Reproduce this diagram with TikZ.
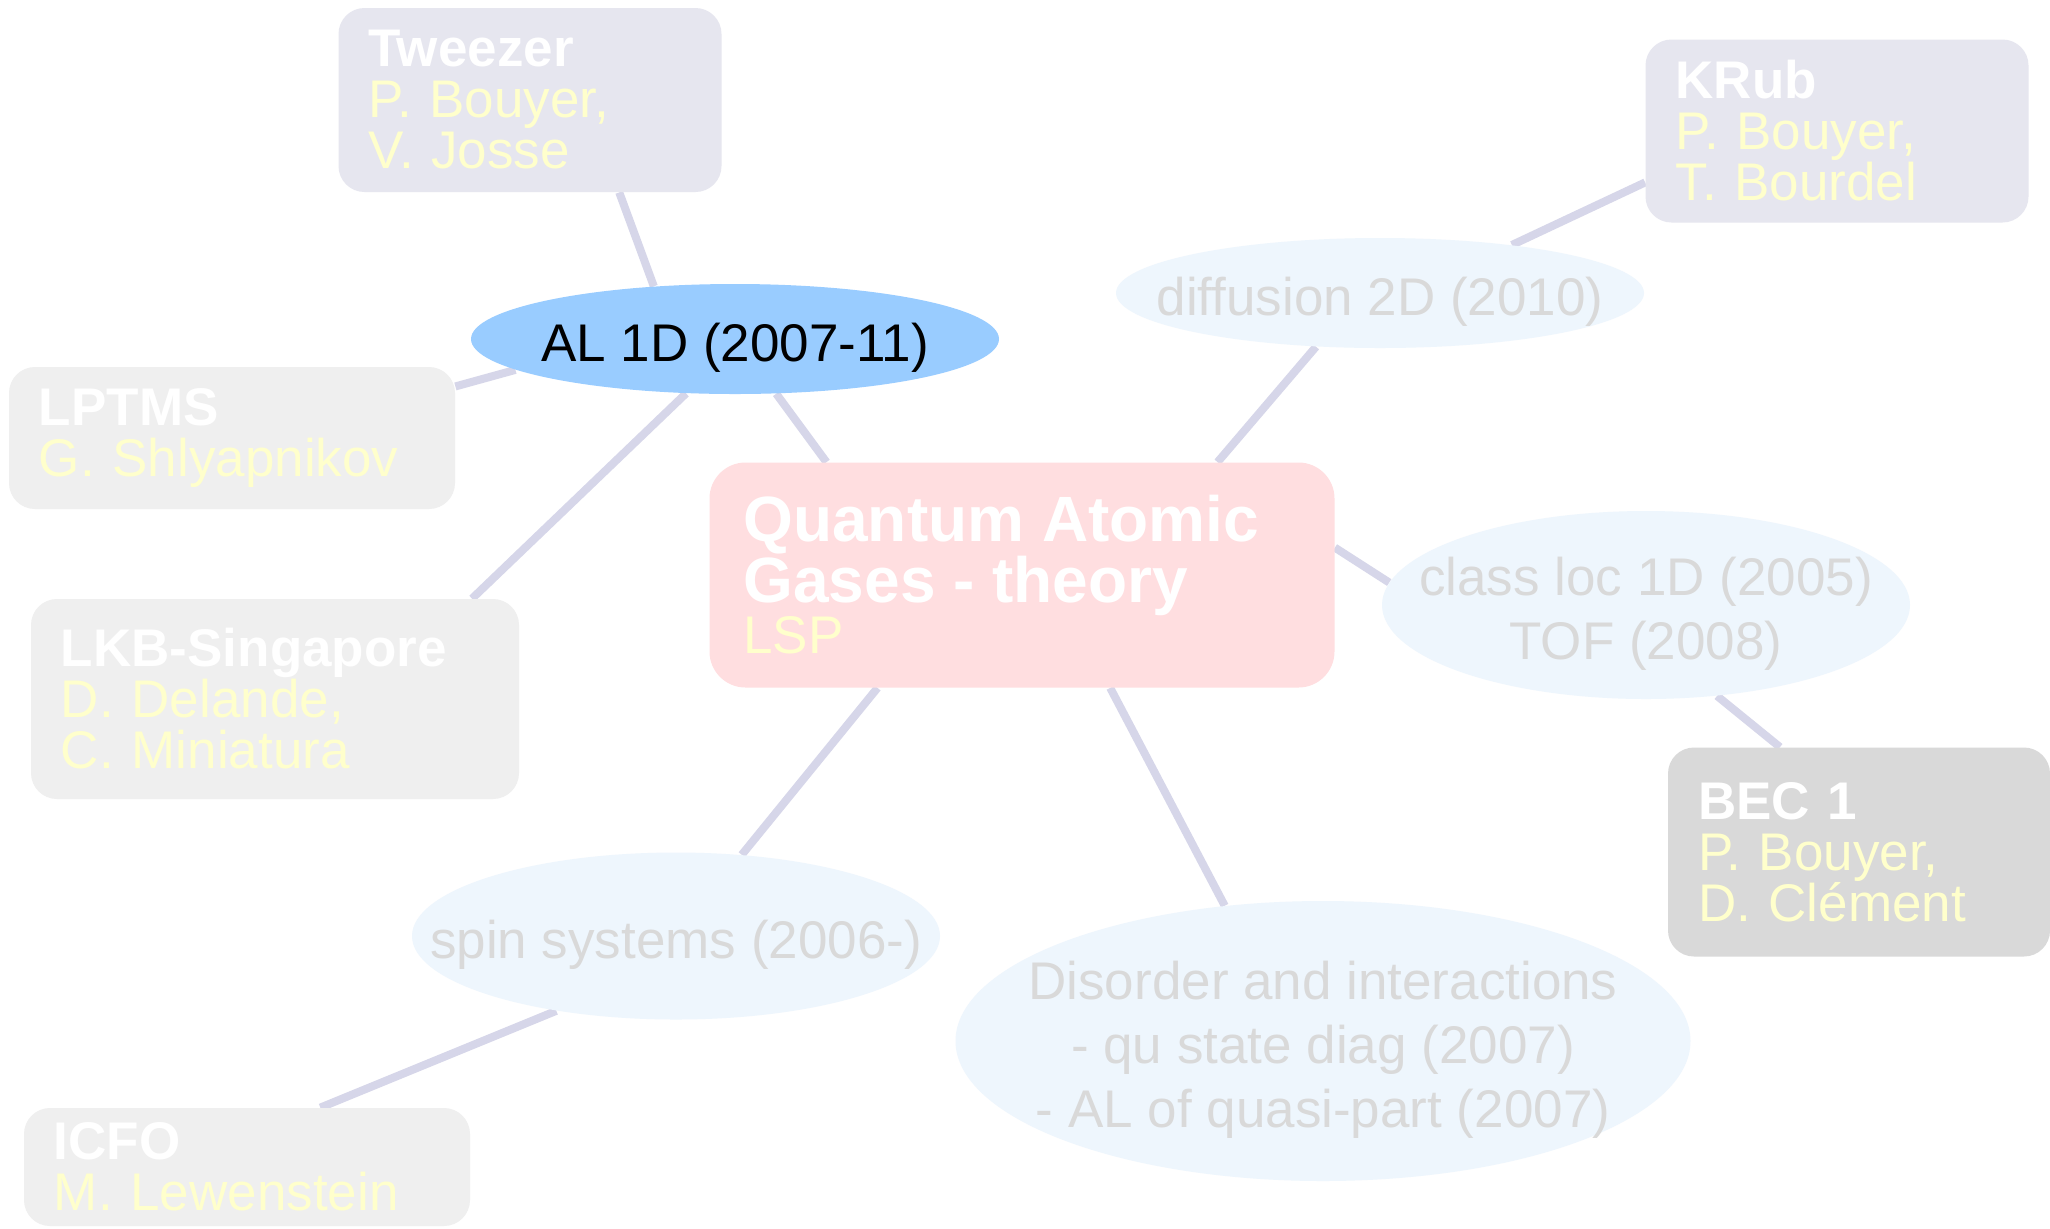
\documentclass[tikz,border=0pt]{standalone}
\usepackage{fontspec}
\setmainfont{Liberation Sans}
\usetikzlibrary{shapes.geometric,backgrounds}
\definecolor{linkcol}{RGB}{214,214,233}
\definecolor{labcol}{RGB}{230,230,239}
\definecolor{partnercol}{RGB}{239,239,239}
\definecolor{beccol}{RGB}{217,217,217}
\definecolor{pinkcol}{RGB}{255,222,224}
\definecolor{bubblecol}{RGB}{238,246,253}
\definecolor{alcol}{RGB}{153,204,255}
\definecolor{greytext}{RGB}{217,217,217}
\definecolor{namecol}{RGB}{255,255,204}
\begin{document}
\begin{tikzpicture}[x=0.5pt, y=-0.5pt,
    every node/.style={font=\fontsize{26.5pt}{25.5pt}\selectfont},
    box/.style={rectangle, rounded corners=13pt, align=left, text=white, inner xsep=15pt, inner ysep=0pt},
    bubble/.style={ellipse, fill=bubblecol, inner sep=0pt},
    bubbletext/.style={align=center, text=greytext, inner sep=0pt, yshift=-4.5pt, font=\fontsize{26.5pt}{32pt}\selectfont},
    link/.style={draw=linkcol, line width=4pt}]
    \useasboundingbox (0,0) rectangle (2050,1228);
    % central topic
    \node[box, fill=pinkcol, text width=278.5pt, minimum height=112.5pt, rounded corners=18pt, inner xsep=17pt] (qag) at (1022,575)
        {{\fontsize{32pt}{30.5pt}\selectfont\bfseries Quantum Atomic\\ Gases - theory\par}\color{namecol}LSP};

    % left branch
    \node[bubble, fill=alcol, minimum width=264pt, minimum height=55pt] (al) at (735,339) {};
    \node[bubbletext, text=black] (al-t) at (al) {AL 1D (2007-11)};
    \node[box, fill=labcol, text width=161.5pt, minimum height=92pt] (tweezer) at (530,100)
        {\textbf{Tweezer}\\ \color{namecol}P. Bouyer,\\ V. Josse};
    \node[box, fill=partnercol, text width=193pt, minimum height=71pt] (lptms) at (232,438)
        {\textbf{LPTMS}\\ \color{namecol}G. Shlyapnikov};
    \node[box, fill=partnercol, text width=214pt, minimum height=100pt] (lkb) at (275,699)
        {\textbf{LKB-Singapore}\\ \color{namecol}D. Delande,\\ C. Miniatura};

    \node[bubble, minimum width=264pt, minimum height=83.5pt] (spin) at (676,936) {};
    \node[bubbletext] (spin-t) at (spin) {spin systems (2006-)};
    \node[box, fill=partnercol, text width=193pt, minimum height=59pt] (icfo) at (247,1167)
        {\textbf{ICFO}\\ \color{namecol}M. Lewenstein};

    % right branch
    \node[bubble, minimum width=264pt, minimum height=55pt] (diffusion) at (1380,293) {};
    \node[bubbletext] (diffusion-t) at (diffusion) {diffusion 2D (2010)};
    \node[box, fill=labcol, text width=161.5pt, minimum height=91.5pt] (krub) at (1837,131)
        {\textbf{KRub}\\ \color{namecol}P. Bouyer,\\ T. Bourdel};

    \node[bubble, minimum width=264pt, minimum height=94pt] (classloc) at (1646,605) {};
    \node[bubbletext] (classloc-t) at (classloc) {class loc 1D (2005)\\ TOF (2008)};
    \node[box, fill=beccol, text width=161pt, minimum height=104.5pt] (bec) at (1859,852)
        {\textbf{BEC 1}\\ \color{namecol}P. Bouyer,\\ D. Clément};

    \node[bubble, minimum width=367.5pt, minimum height=140pt] (disorder) at (1323,1041) {};
    \node[bubbletext] (disorder-t) at (disorder) {Disorder and interactions\\ - qu state diag (2007)\\ - AL of quasi-part (2007)};

    \begin{scope}[on background layer]
        \fill[white] (0,0) rectangle (2050,1228);
        \draw[link] (qag.150) -- (al.307);
        \draw[link] (al.147) -- (tweezer.314);
        \draw[link] (al.188) -- (lptms.13);
        \draw[link] (al.228) -- (lkb.27);
        \draw[link] (qag.218) -- (spin.51);
        \draw[link] (spin.212) -- (icfo.39);
        \draw[link] (qag.30) -- (diffusion.220);
        \draw[link] (diffusion.20) -- (krub.195);
        \draw[link] (qag.5) -- (classloc.175);
        \draw[link] (classloc.308) -- (bec.127);
        \draw[link] (qag.308) -- (disorder.126);
    \end{scope}
\end{tikzpicture}
\end{document}
